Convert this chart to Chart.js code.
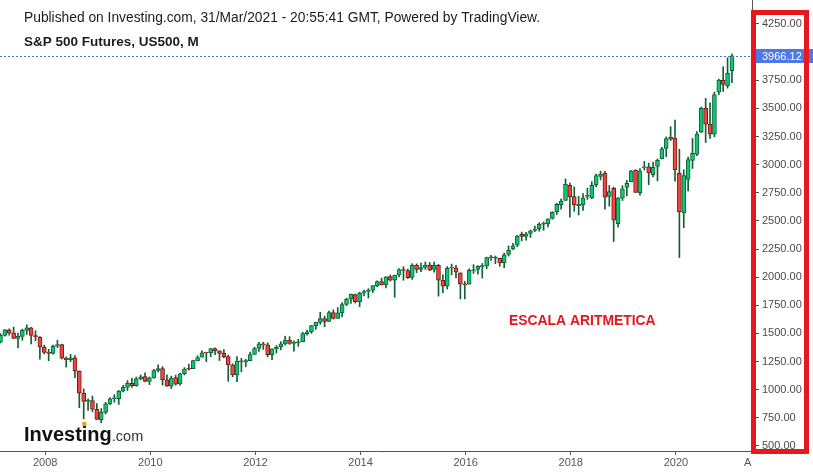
<!DOCTYPE html>
<html>
<head>
<meta charset="utf-8">
<script src="https://cdn.jsdelivr.net/npm/chart.js@4"></script>
<style>
  html, body { margin: 0; padding: 0; background: #fff; }
</style>
</head>
<body>
<canvas id="chart" width="813" height="474"></canvas>
<script>
// monthly candles, first one is Apr 2007
const startYear = 2007;
const startMonth = 3;

const opens = [
  1421, 1482, 1531, 1504, 1455, 1474, 1527, 1549, 1481,
  1468, 1379, 1331, 1323, 1386, 1400, 1280, 1267, 1283, 1164, 969, 896,
  903, 826, 730, 798, 873, 919, 919, 987, 1021, 1057, 1036, 1096,
  1116, 1074, 1105, 1171, 1188, 1087, 1031, 1108, 1050, 1143, 1185, 1187,
  1258, 1289, 1329, 1329, 1365, 1345, 1322, 1293, 1220, 1131, 1251, 1246,
  1258, 1313, 1366, 1408, 1398, 1310, 1362, 1380, 1407, 1441, 1412, 1416,
  1426, 1498, 1515, 1569, 1597, 1631, 1606, 1686, 1633, 1682, 1758, 1806,
  1846, 1782, 1858, 1873, 1884, 1924, 1960, 1930, 2004, 1972, 2019, 2066,
  2059, 1997, 2106, 2068, 2087, 2108, 2068, 2104, 1971, 1919, 2080, 2082,
  2038, 1937, 1937, 2057, 2068, 2094, 2100, 2174, 2171, 2168, 2129, 2201,
  2251, 2285, 2381, 2363, 2388, 2415, 2431, 2477, 2474, 2521, 2583, 2645,
  2683, 2816, 2715, 2634, 2643, 2718, 2705, 2821, 2896, 2926, 2717, 2790,
  2476, 2703, 2798, 2848, 2952, 2751, 2971, 2980, 2910, 2984, 3051, 3143,
  3245, 3235, 2925, 2571, 2869, 3038, 3090, 3289, 3500, 3360, 3270, 3645,
  3750, 3700, 3836
];
const highs = [
  1498, 1535, 1540, 1556, 1503, 1538, 1576, 1553, 1523,
  1471, 1396, 1359, 1397, 1440, 1404, 1292, 1313, 1303, 1167, 1007, 919,
  943, 876, 832, 888, 930, 956, 993, 1039, 1081, 1101, 1112, 1130,
  1150, 1113, 1181, 1220, 1205, 1131, 1120, 1129, 1148, 1196, 1227, 1262,
  1302, 1344, 1332, 1364, 1371, 1346, 1356, 1307, 1230, 1293, 1278, 1270,
  1334, 1378, 1420, 1422, 1416, 1363, 1392, 1427, 1475, 1471, 1434, 1448,
  1510, 1530, 1570, 1597, 1687, 1654, 1698, 1709, 1730, 1775, 1813, 1849,
  1850, 1867, 1884, 1897, 1925, 1968, 1991, 2005, 2019, 2018, 2075, 2093,
  2072, 2120, 2118, 2126, 2135, 2130, 2133, 2113, 2021, 2094, 2116, 2104,
  2038, 1962, 2073, 2111, 2103, 2121, 2178, 2194, 2188, 2169, 2214, 2278,
  2301, 2371, 2401, 2398, 2419, 2454, 2484, 2491, 2519, 2582, 2657, 2695,
  2873, 2835, 2802, 2718, 2743, 2791, 2849, 2917, 2941, 2940, 2815, 2800,
  2708, 2813, 2860, 2949, 2954, 2964, 3028, 3014, 3022, 3050, 3154, 3247,
  3337, 3397, 3137, 2954, 3068, 3233, 3294, 3512, 3588, 3549, 3645, 3760,
  3870, 3950, 3983
];
const lows = [
  1416, 1476, 1484, 1454, 1371, 1439, 1490, 1407, 1435,
  1270, 1317, 1257, 1315, 1374, 1272, 1200, 1249, 1107, 840, 741, 815,
  805, 735, 705, 784, 866, 888, 869, 979, 993, 1020, 1030, 1086,
  1071, 1045, 1101, 1157, 1041, 1028, 1010, 1040, 1039, 1131, 1173, 1187,
  1257, 1289, 1249, 1294, 1311, 1259, 1282, 1074, 1114, 1070, 1159, 1203,
  1258, 1312, 1340, 1358, 1291, 1267, 1325, 1354, 1397, 1403, 1343, 1385,
  1426, 1485, 1501, 1536, 1581, 1560, 1605, 1627, 1633, 1646, 1746, 1767,
  1770, 1737, 1834, 1814, 1863, 1915, 1930, 1905, 1964, 1821, 2001, 1972,
  1988, 1980, 2040, 2048, 2068, 2057, 2045, 1831, 1863, 1894, 2020, 1993,
  1807, 1807, 1937, 2033, 2026, 1992, 2075, 2148, 2119, 2097, 2084, 2188,
  2245, 2271, 2322, 2329, 2353, 2405, 2408, 2417, 2446, 2515, 2557, 2605,
  2682, 2533, 2585, 2553, 2594, 2691, 2698, 2802, 2864, 2604, 2631, 2317,
  2444, 2681, 2722, 2848, 2750, 2728, 2952, 2822, 2891, 2855, 3050, 3070,
  3214, 2853, 2174, 2440, 2767, 2966, 3080, 3284, 3197, 3233, 3247, 3620,
  3650, 3680, 3729
];
const closes = [
  1482, 1531, 1503, 1455, 1474, 1527, 1549, 1481, 1468,
  1379, 1331, 1323, 1386, 1400, 1280, 1267, 1283, 1165, 969, 896, 903,
  826, 735, 798, 873, 919, 919, 987, 1021, 1057, 1036, 1096, 1115,
  1074, 1104, 1169, 1187, 1089, 1031, 1102, 1049, 1141, 1183, 1181, 1258,
  1286, 1327, 1326, 1364, 1345, 1321, 1292, 1219, 1131, 1253, 1247, 1258,
  1312, 1366, 1408, 1398, 1310, 1362, 1379, 1407, 1441, 1412, 1416, 1426,
  1498, 1515, 1569, 1598, 1631, 1606, 1686, 1633, 1682, 1757, 1806, 1848,
  1783, 1859, 1872, 1884, 1924, 1960, 1931, 2003, 1972, 2018, 2068, 2059,
  1995, 2105, 2068, 2086, 2107, 2063, 2104, 1973, 1920, 2079, 2080, 2044,
  1940, 1932, 2060, 2065, 2097, 2099, 2174, 2171, 2168, 2126, 2199, 2239,
  2279, 2364, 2363, 2384, 2412, 2423, 2470, 2471, 2519, 2575, 2648, 2674,
  2824, 2714, 2641, 2648, 2705, 2718, 2816, 2902, 2914, 2711, 2760, 2507,
  2704, 2784, 2834, 2946, 2752, 2942, 2980, 2926, 2977, 3038, 3141, 3231,
  3226, 2954, 2580, 2902, 3044, 3100, 3271, 3500, 3360, 3270, 3622, 3752,
  3714, 3811, 3966.12
];

// 4000 is hidden by the last price tag, like in TradingView
const yTicks = [500, 750, 1000, 1250, 1500, 1750, 2000, 2250, 2500, 2750, 3000, 3250, 3500, 3750, 4250];
const xTickYears = [2008, 2010, 2012, 2014, 2016, 2018, 2020];
const xTickLabels = ['2008', '2010', '2012', '2014', '2016', '2018', '2020', 'Aug'];

// month index, 0 = Jan 2008
const months = opens.map((o, i) => (startYear - 2008) * 12 + startMonth + i);
const tickShift = 1.2;
const xTickPos = xTickYears.map(y => (y - 2008) * 12 + tickShift).concat([(2021 - 2008) * 12 + 7]);

const upFill = '#0dc776', upLine = '#135f35';
const downFill = '#f0463e', downLine = '#6d1d1b';
const wickColor = '#135f35';
const isUp = closes.map((c, i) => c >= opens[i]);
const font = '"Liberation Sans", Arial, sans-serif';

const overlay = {
  id: 'overlay',
  afterDraw(chart) {
    const ctx = chart.ctx;
    const area = chart.chartArea;
    const y = chart.scales.y;
    const last = closes[closes.length - 1];
    const py = Math.round(y.getPixelForValue(last)) + 0.5;
    ctx.save();

    // hide the part of the date axis under the price scale
    ctx.fillStyle = '#fff';
    ctx.fillRect(area.right, area.bottom + 1, 813 - area.right, 474 - area.bottom);

    // last price line
    ctx.strokeStyle = '#4a74dc';
    ctx.lineWidth = 1;
    ctx.setLineDash([2, 2]);
    ctx.beginPath();
    ctx.moveTo(area.left, py);
    ctx.lineTo(area.right, py);
    ctx.stroke();
    ctx.setLineDash([]);

    // price tag
    ctx.fillStyle = '#4c79e3';
    ctx.fillRect(area.right, py - 7.5, 813 - area.right, 14);
    ctx.fillStyle = '#fff';
    ctx.font = '11px ' + font;
    ctx.textBaseline = 'middle';
    ctx.textAlign = 'left';
    ctx.fillText(last.toFixed(2), 762, py);

    // header
    ctx.fillStyle = '#1c1c1c';
    ctx.font = '13.8px ' + font;
    ctx.fillText('Published on Investing.com, 31/Mar/2021 - 20:55:41 GMT, Powered by TradingView.', 24, 18);
    ctx.font = 'bold 13.5px ' + font;
    ctx.fillText('S&P 500 Futures, US500, M', 24, 42);

    // annotation
    ctx.fillStyle = '#e8161d';
    ctx.font = 'bold 13.9px ' + font;
    ctx.fillText('ESCALA ARITMETICA', 509, 321);

    // logo
    ctx.textBaseline = 'alphabetic';
    ctx.fillStyle = '#111';
    ctx.font = 'bold 20px ' + font;
    ctx.fillText('Investing', 24, 441);
    const w = ctx.measureText('Investing').width;
    const wi = ctx.measureText('Invest').width;
    ctx.fillStyle = '#333';
    ctx.font = '14.5px ' + font;
    ctx.fillText('.com', 24 + w, 441);
    ctx.fillStyle = '#fff';
    ctx.fillRect(24 + wi, 420, 7, 6);
    ctx.fillStyle = '#f5a300';
    ctx.fillRect(24 + wi + 0.5, 422, 4, 4);

    // red frame around the price scale
    ctx.strokeStyle = '#e8161d';
    ctx.lineWidth = 5;
    ctx.strokeRect(753.5, 12.5, 53, 439);
    ctx.restore();
  }
};

new Chart(document.getElementById('chart'), {
  type: 'bar',
  data: {
    datasets: [
      {
        label: 'wick',
        data: months.map((m, i) => ({ x: m, y: [lows[i], highs[i]] })),
        backgroundColor: wickColor,
        barThickness: 1,
        grouped: false,
        order: 2
      },
      {
        label: 'body',
        data: months.map((m, i) => ({ x: m, y: [opens[i], closes[i]] })),
        backgroundColor: isUp.map(u => u ? upFill : downFill),
        borderColor: isUp.map(u => u ? upLine : downLine),
        borderWidth: 1,
        borderSkipped: false,
        barThickness: 4,
        minBarLength: 1,
        grouped: false,
        order: 1
      }
    ]
  },
  options: {
    responsive: false,
    animation: false,
    layout: { padding: 0 },
    plugins: { legend: { display: false }, tooltip: { enabled: false } },
    scales: {
      x: {
        type: 'linear',
        min: -9.11,
        max: 162.58,
        offset: false,
        grid: { drawOnChartArea: false, offset: false, tickLength: 4, color: '#555' },
        border: { color: '#555' },
        ticks: {
          autoSkip: false,
          maxRotation: 0,
          padding: 1,
          color: '#555',
          font: { family: font, size: 11 },
          callback: (v, i) => xTickLabels[i]
        },
        afterBuildTicks: s => { s.ticks = xTickPos.map(v => ({ value: v })); },
        afterFit: s => { s.height = 23; s.paddingLeft = 0; s.paddingRight = 0; }
      },
      y: {
        position: 'right',
        min: 454.7,
        max: 4463.3,
        grid: { drawOnChartArea: false, tickLength: 7, color: '#555' },
        border: { color: '#555' },
        ticks: {
          padding: 3,
          color: '#4a4a4a',
          font: { family: font, size: 11 },
          callback: v => v.toFixed(2)
        },
        afterBuildTicks: s => { s.ticks = yTicks.map(v => ({ value: v })); },
        afterFit: s => { s.width = 61; s.paddingTop = 0; s.paddingBottom = 0; }
      }
    }
  },
  plugins: [overlay]
});
</script>
</body>
</html>
